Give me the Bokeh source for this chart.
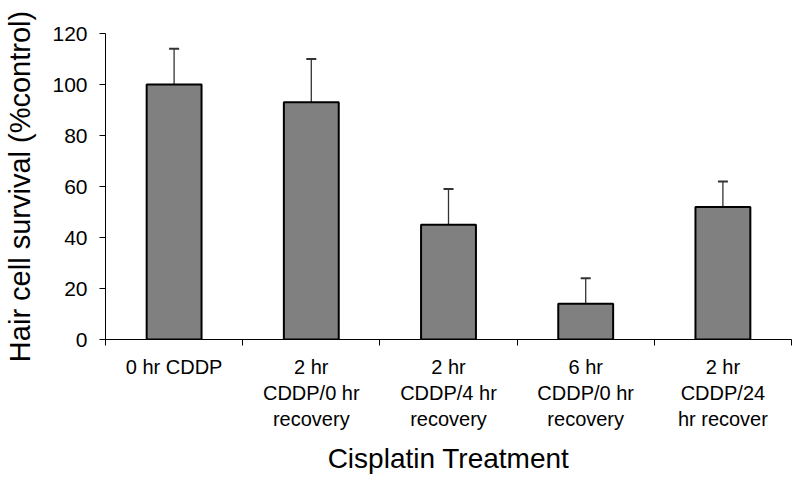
from bokeh.plotting import figure
from bokeh.models import Range1d, FixedTicker, ColumnDataSource, Whisker, TeeHead
from bokeh.embed import file_html
from bokeh.resources import INLINE

categories = ["0 hr CDDP", "2 hr\nCDDP/0 hr\nrecovery", "2 hr\nCDDP/4 hr\nrecovery",
              "6 hr\nCDDP/0 hr\nrecovery", "2 hr\nCDDP/24\nhr recover"]
survival = [100, 93, 45, 14, 52]
error = [14, 17, 14, 10, 10]
y_ticks = [0, 20, 40, 60, 80, 100, 120]

FONT = "Liberation Sans"

xs = [i + 0.5 for i in range(len(categories))]
src = ColumnDataSource(dict(x=xs, top=survival,
                            upper=[s + e for s, e in zip(survival, error)]))

p = figure(frame_width=686, frame_height=306, output_backend="svg", toolbar_location=None,
           x_range=Range1d(0, len(categories)), y_range=Range1d(0, 120),
           min_border_left=105, min_border_right=9, min_border_top=33, min_border_bottom=140)
p.outline_line_color = None
p.xgrid.visible = False
p.ygrid.visible = False

w = Whisker(source=src, base="x", upper="upper", lower="top",
            line_color="#333333", line_width=1.3,
            upper_head=TeeHead(size=10, line_color="#333333", line_width=2), lower_head=None)
p.add_layout(w)

p.vbar(x="x", top="top", width=0.4, bottom=0, source=src,
       fill_color="#808080", line_color="black", line_width=2)

xa = p.xaxis[0]
xa.ticker = FixedTicker(ticks=xs, minor_ticks=list(range(len(categories) + 1)))
xa.major_label_overrides = {x: c for x, c in zip(xs, categories)}
xa.major_tick_out = 0
xa.major_tick_in = 0
xa.minor_tick_out = 6
xa.minor_tick_in = 0
xa.minor_tick_line_color = "black"
xa.axis_line_color = "black"
xa.major_label_text_font = FONT
xa.major_label_text_font_size = "20px"
xa.major_label_text_color = "black"
xa.major_label_standoff = 10
xa.axis_label = "Cisplatin Treatment"
xa.axis_label_text_font = FONT
xa.axis_label_text_font_size = "28px"
xa.axis_label_text_font_style = "normal"
xa.axis_label_text_color = "black"
xa.axis_label_standoff = 10

ya = p.yaxis[0]
ya.ticker = FixedTicker(ticks=y_ticks, minor_ticks=[])
ya.major_tick_out = 6
ya.major_tick_in = 0
ya.axis_line_color = "black"
ya.major_tick_line_color = "black"
ya.major_label_text_font = FONT
ya.major_label_text_font_size = "21px"
ya.major_label_text_color = "black"
ya.major_label_standoff = 12
ya.axis_label = "Hair cell survival (%control)"
ya.axis_label_text_font = FONT
ya.axis_label_text_font_size = "29px"
ya.axis_label_text_font_style = "normal"
ya.axis_label_text_color = "black"
ya.axis_label_standoff = 13

open("out.html", "w").write(file_html(p, INLINE))
